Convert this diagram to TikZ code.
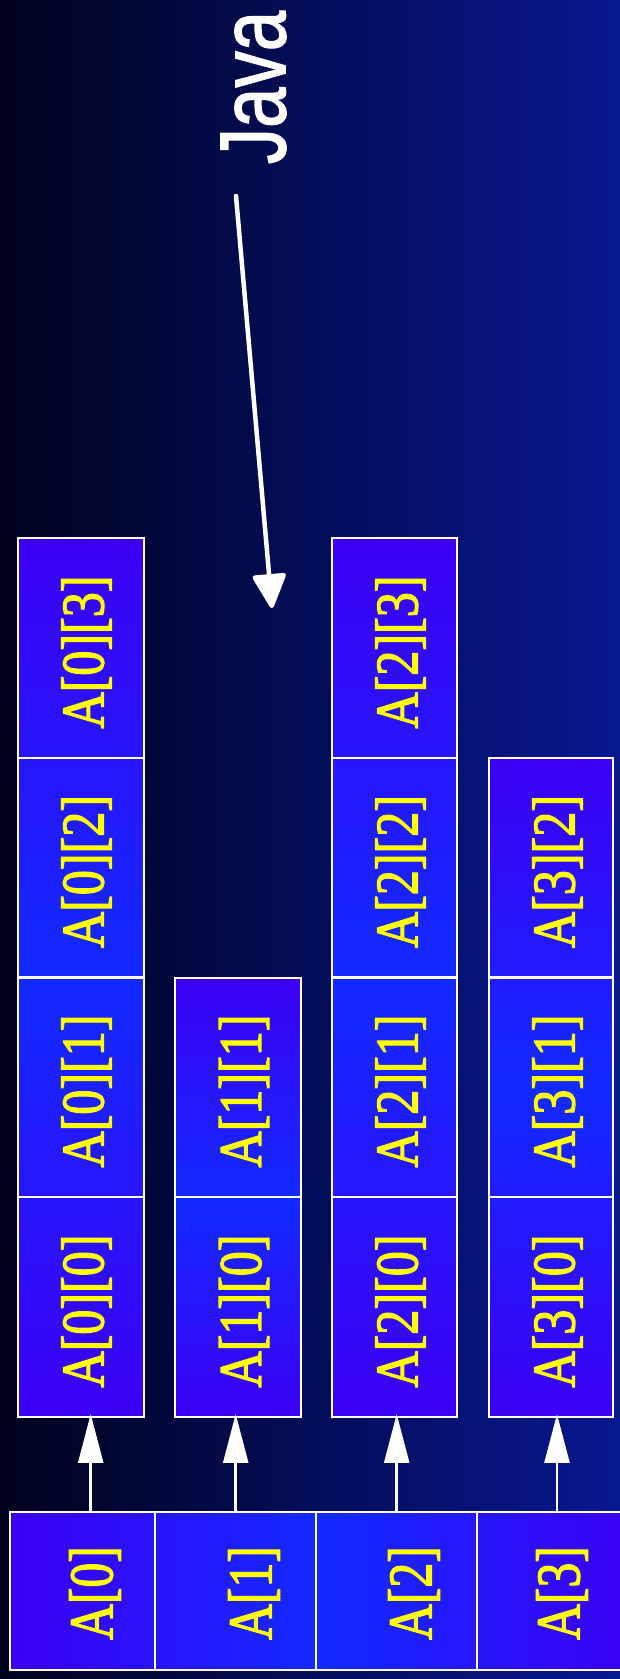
\documentclass[tikz,border=0pt]{standalone}
\usepackage{fontspec}
\setmainfont{Liberation Serif}
\newfontfamily\cellfont{Liberation Serif}[BoldFont={Liberation Serif}, BoldFeatures={FakeBold=2.2}]
\newfontfamily\javafont{Liberation Sans}[BoldFont={Liberation Sans}, BoldFeatures={FakeBold=1.6}]
\usetikzlibrary{arrows.meta}
\definecolor{bgL}{RGB}{0,2,30}
\definecolor{bgR}{RGB}{8,24,145}
\definecolor{cP}{RGB}{60,0,245}
\definecolor{cB}{RGB}{18,42,255}
\definecolor{txtY}{RGB}{255,255,0}
\newcommand\celltext[1]{\scalebox{0.83}[1]{#1}}
\newcommand\rowtext[1]{\scalebox{0.80}[1]{#1}}
\begin{document}
\begin{tikzpicture}[x=1pt,y=-1pt,
  cellbox/.style={draw=white, line width=2pt, minimum width=126pt, minimum height=219.75pt, inner sep=0pt, outer sep=0pt},
  rowbox/.style={draw=white, line width=2pt, minimum height=158pt, inner sep=0pt, outer sep=0pt},
  celltxt/.style={text=txtY, rotate=90, inner sep=0pt, font=\cellfont\bfseries\fontsize{60.4}{61}\selectfont},
  rowtxt/.style={text=txtY, rotate=90, inner sep=0pt, font=\cellfont\bfseries\fontsize{62}{63}\selectfont},
  javatxt/.style={text=white, rotate=90, inner sep=0pt, font=\javafont\bfseries\fontsize{93.6}{94}\selectfont},
  colfill/.style={top color=cP, bottom color=cP, middle color=cB},
  uparr/.style={draw=white, line width=2.5pt, shorten >=-3pt, -{Triangle[length=49pt,width=25pt]}},
  javaarr/.style={draw=white, line width=4.5pt, line cap=round, -{Triangle[length=37pt,width=35pt,round]}}
]
\useasboundingbox (0,0) rectangle (620,1679);
\clip (0,0) rectangle (620,1679);
\shade[left color=bgL, right color=bgR] (0,0) rectangle (620,1679);

% column fills
\shade[colfill] (18,538) rectangle (144,1417);
\shade[colfill] (175,977.5) rectangle (301,1417);
\shade[colfill] (331.5,538) rectangle (457,1417);
\shade[colfill] (489,757.75) rectangle (613,1417);
% bottom row fill
\shade[left color=cP, right color=cP, middle color=cB] (10,1512) rectangle (638,1670);

% column 0
\node[cellbox] (c00) at (81,1307.1) {};
\node[cellbox] (c01) at (81,1087.4) {};
\node[cellbox] (c02) at (81,867.6) {};
\node[cellbox] (c03) at (81,647.9) {};
% column 1
\node[cellbox] (c10) at (238,1307.1) {};
\node[cellbox] (c11) at (238,1087.4) {};
% column 2
\node[cellbox, minimum width=125.5pt] (c20) at (394.25,1307.1) {};
\node[cellbox, minimum width=125.5pt] (c21) at (394.25,1087.4) {};
\node[cellbox, minimum width=125.5pt] (c22) at (394.25,867.6) {};
\node[cellbox, minimum width=125.5pt] (c23) at (394.25,647.9) {};
% column 3
\node[cellbox, minimum width=124pt] (c30) at (551,1307.1) {};
\node[cellbox, minimum width=124pt] (c31) at (551,1087.4) {};
\node[cellbox, minimum width=124pt] (c32) at (551,867.6) {};

% cell labels
\node[celltxt] (t00) at (86.5,1311) {\celltext{A[0][0]}};
\node[celltxt] (t01) at (86.5,1091) {\celltext{A[0][1]}};
\node[celltxt] (t02) at (86.5,871.5) {\celltext{A[0][2]}};
\node[celltxt] (t03) at (86.5,652) {\celltext{A[0][3]}};
\node[celltxt] (t10) at (244,1311) {\celltext{A[1][0]}};
\node[celltxt] (t11) at (244,1091) {\celltext{A[1][1]}};
\node[celltxt] (t20) at (400.5,1311) {\celltext{A[2][0]}};
\node[celltxt] (t21) at (400.5,1091) {\celltext{A[2][1]}};
\node[celltxt] (t22) at (400.5,871.5) {\celltext{A[2][2]}};
\node[celltxt] (t23) at (400.5,652) {\celltext{A[2][3]}};
\node[celltxt] (t30) at (557.5,1311) {\celltext{A[3][0]}};
\node[celltxt] (t31) at (557.5,1091) {\celltext{A[3][1]}};
\node[celltxt] (t32) at (557.5,871.5) {\celltext{A[3][2]}};

% bottom row
\node[rowbox, minimum width=145pt] (r0) at (82.5,1591) {};
\node[rowbox, minimum width=161pt] (r1) at (235.5,1591) {};
\node[rowbox, minimum width=161pt] (r2) at (396.5,1591) {};
\node[rowbox, minimum width=161pt] (r3) at (557.5,1591) {};
\node[rowtxt] (s0) at (95,1593) {\rowtext{A[0]}};
\node[rowtxt] (s1) at (254,1593) {\rowtext{A[1]}};
\node[rowtxt] (s2) at (414,1593) {\rowtext{A[2]}};
\node[rowtxt] (s3) at (562,1593) {\rowtext{A[3]}};

% arrows from bottom row to rows
\coordinate (a0) at (90.7,0);
\coordinate (a1) at (235.7,0);
\coordinate (a2) at (396.7,0);
\coordinate (a3) at (557,0);
\draw[uparr] (r0.north -| a0) -- (c00.south -| a0);
\draw[uparr] (r1.north -| a1) -- (c10.south -| a1);
\draw[uparr] (r2.north -| a2) -- (c20.south -| a2);
\draw[uparr] (r3.north -| a3) -- (c30.south -| a3);

% Java label and arrow
\node[javatxt] (java) at (253.5,87.5) {\scalebox{0.775}[1]{Java}};
\coordinate (js) at (236,196);
\coordinate (jt) at (272,608);
\draw[javaarr] (js) -- (jt);
\end{tikzpicture}
\end{document}
